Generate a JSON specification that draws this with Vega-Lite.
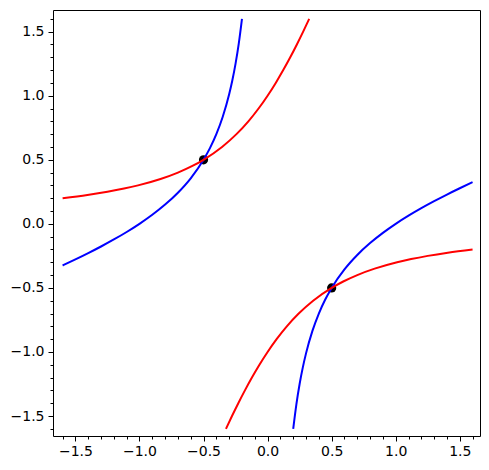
{
  "$schema": "https://vega.github.io/schema/vega-lite/v6.json",
  "width": 427,
  "height": 426,
  "autosize": {"type": "none"},
  "padding": {"left": 53, "top": 10, "right": 9, "bottom": 34},
  "datasets": {
    "curves": [
      {"c": "blue", "b": "b1", "x": -1.6, "y": -0.325},
      {"c": "blue", "b": "b1", "x": -1.5, "y": -0.2778},
      {"c": "blue", "b": "b1", "x": -1.4, "y": -0.2286},
      {"c": "blue", "b": "b1", "x": -1.3, "y": -0.1769},
      {"c": "blue", "b": "b1", "x": -1.2, "y": -0.1222},
      {"c": "blue", "b": "b1", "x": -1.1, "y": -0.0636},
      {"c": "blue", "b": "b1", "x": -1.0, "y": 0.0},
      {"c": "blue", "b": "b1", "x": -0.9, "y": 0.0704},
      {"c": "blue", "b": "b1", "x": -0.8, "y": 0.15},
      {"c": "blue", "b": "b1", "x": -0.7, "y": 0.2429},
      {"c": "blue", "b": "b1", "x": -0.6, "y": 0.3556},
      {"c": "blue", "b": "b1", "x": -0.5, "y": 0.5},
      {"c": "blue", "b": "b1", "x": -0.45, "y": 0.5907},
      {"c": "blue", "b": "b1", "x": -0.4, "y": 0.7},
      {"c": "blue", "b": "b1", "x": -0.35, "y": 0.8357},
      {"c": "blue", "b": "b1", "x": -0.3, "y": 1.0111},
      {"c": "blue", "b": "b1", "x": -0.275, "y": 1.1205},
      {"c": "blue", "b": "b1", "x": -0.25, "y": 1.25},
      {"c": "blue", "b": "b1", "x": -0.225, "y": 1.4065},
      {"c": "blue", "b": "b1", "x": -0.2, "y": 1.6},
      {"c": "blue", "b": "b2", "x": 0.2, "y": -1.6},
      {"c": "blue", "b": "b2", "x": 0.225, "y": -1.4065},
      {"c": "blue", "b": "b2", "x": 0.25, "y": -1.25},
      {"c": "blue", "b": "b2", "x": 0.275, "y": -1.1205},
      {"c": "blue", "b": "b2", "x": 0.3, "y": -1.0111},
      {"c": "blue", "b": "b2", "x": 0.35, "y": -0.8357},
      {"c": "blue", "b": "b2", "x": 0.4, "y": -0.7},
      {"c": "blue", "b": "b2", "x": 0.45, "y": -0.5907},
      {"c": "blue", "b": "b2", "x": 0.5, "y": -0.5},
      {"c": "blue", "b": "b2", "x": 0.6, "y": -0.3556},
      {"c": "blue", "b": "b2", "x": 0.7, "y": -0.2429},
      {"c": "blue", "b": "b2", "x": 0.8, "y": -0.15},
      {"c": "blue", "b": "b2", "x": 0.9, "y": -0.0704},
      {"c": "blue", "b": "b2", "x": 1.0, "y": 0.0},
      {"c": "blue", "b": "b2", "x": 1.1, "y": 0.0636},
      {"c": "blue", "b": "b2", "x": 1.2, "y": 0.1222},
      {"c": "blue", "b": "b2", "x": 1.3, "y": 0.1769},
      {"c": "blue", "b": "b2", "x": 1.4, "y": 0.2286},
      {"c": "blue", "b": "b2", "x": 1.5, "y": 0.2778},
      {"c": "blue", "b": "b2", "x": 1.6, "y": 0.325},
      {"c": "red", "b": "r1", "x": -1.6, "y": 0.2},
      {"c": "red", "b": "r1", "x": -1.4065, "y": 0.225},
      {"c": "red", "b": "r1", "x": -1.25, "y": 0.25},
      {"c": "red", "b": "r1", "x": -1.1205, "y": 0.275},
      {"c": "red", "b": "r1", "x": -1.0111, "y": 0.3},
      {"c": "red", "b": "r1", "x": -0.8357, "y": 0.35},
      {"c": "red", "b": "r1", "x": -0.7, "y": 0.4},
      {"c": "red", "b": "r1", "x": -0.5907, "y": 0.45},
      {"c": "red", "b": "r1", "x": -0.5, "y": 0.5},
      {"c": "red", "b": "r1", "x": -0.3556, "y": 0.6},
      {"c": "red", "b": "r1", "x": -0.2429, "y": 0.7},
      {"c": "red", "b": "r1", "x": -0.15, "y": 0.8},
      {"c": "red", "b": "r1", "x": -0.0704, "y": 0.9},
      {"c": "red", "b": "r1", "x": 0.0, "y": 1.0},
      {"c": "red", "b": "r1", "x": 0.0636, "y": 1.1},
      {"c": "red", "b": "r1", "x": 0.1222, "y": 1.2},
      {"c": "red", "b": "r1", "x": 0.1769, "y": 1.3},
      {"c": "red", "b": "r1", "x": 0.2286, "y": 1.4},
      {"c": "red", "b": "r1", "x": 0.2778, "y": 1.5},
      {"c": "red", "b": "r1", "x": 0.325, "y": 1.6},
      {"c": "red", "b": "r2", "x": -0.325, "y": -1.6},
      {"c": "red", "b": "r2", "x": -0.2778, "y": -1.5},
      {"c": "red", "b": "r2", "x": -0.2286, "y": -1.4},
      {"c": "red", "b": "r2", "x": -0.1769, "y": -1.3},
      {"c": "red", "b": "r2", "x": -0.1222, "y": -1.2},
      {"c": "red", "b": "r2", "x": -0.0636, "y": -1.1},
      {"c": "red", "b": "r2", "x": 0.0, "y": -1.0},
      {"c": "red", "b": "r2", "x": 0.0704, "y": -0.9},
      {"c": "red", "b": "r2", "x": 0.15, "y": -0.8},
      {"c": "red", "b": "r2", "x": 0.2429, "y": -0.7},
      {"c": "red", "b": "r2", "x": 0.3556, "y": -0.6},
      {"c": "red", "b": "r2", "x": 0.5, "y": -0.5},
      {"c": "red", "b": "r2", "x": 0.5907, "y": -0.45},
      {"c": "red", "b": "r2", "x": 0.7, "y": -0.4},
      {"c": "red", "b": "r2", "x": 0.8357, "y": -0.35},
      {"c": "red", "b": "r2", "x": 1.0111, "y": -0.3},
      {"c": "red", "b": "r2", "x": 1.1205, "y": -0.275},
      {"c": "red", "b": "r2", "x": 1.25, "y": -0.25},
      {"c": "red", "b": "r2", "x": 1.4065, "y": -0.225},
      {"c": "red", "b": "r2", "x": 1.6, "y": -0.2}
    ],
    "pts": [
      {"x": -0.5, "y": 0.5},
      {"x": 0.5, "y": -0.5}
    ]
  },
  "config": {
    "view": {"stroke": "black", "strokeWidth": 1},
    "axis": {
      "domain": false,
      "grid": false,
      "title": null,
      "tickColor": "black",
      "tickWidth": 1,
      "labelColor": "black",
      "labelFont": "DejaVu Sans",
      "labelFontSize": 14
    }
  },
  "layer": [
    {
      "data": {"name": "pts"},
      "mark": {"type": "point", "filled": true, "color": "black", "size": 85, "opacity": 1},
      "encoding": {
        "x": {
          "field": "x", "type": "quantitative",
          "scale": {"domain": [-1.675, 1.658], "nice": false, "zero": false},
          "axis": {"orient": "bottom", "values": [-1.5, -1.0, -0.5, 0.0, 0.5, 1.0, 1.5], "format": ".1f", "tickSize": 5, "labelPadding": 3, "labelFlush": false, "labelOverlap": false}
        },
        "y": {
          "field": "y", "type": "quantitative",
          "scale": {"domain": [-1.656, 1.669], "nice": false, "zero": false},
          "axis": {"orient": "left", "values": [-1.5, -1.0, -0.5, 0.0, 0.5, 1.0, 1.5], "format": ".1f", "tickSize": 5, "labelPadding": 4, "labelFlush": false, "labelOverlap": false}
        }
      }
    },
    {
      "data": {"name": "curves"},
      "mark": {"type": "line", "strokeWidth": 2, "clip": true, "interpolate": "monotone"},
      "encoding": {
        "x": {
          "field": "x", "type": "quantitative",
          "scale": {"domain": [-1.675, 1.658], "nice": false, "zero": false},
          "axis": {"orient": "bottom", "labels": false, "tickSize": 3, "values": [-1.6, -1.4, -1.3, -1.2, -1.1, -0.9, -0.8, -0.7, -0.6, -0.4, -0.3, -0.2, -0.1, 0.1, 0.2, 0.3, 0.4, 0.6, 0.7, 0.8, 0.9, 1.1, 1.2, 1.3, 1.4, 1.6]}
        },
        "y": {
          "field": "y", "type": "quantitative",
          "scale": {"domain": [-1.656, 1.669], "nice": false, "zero": false},
          "axis": {"orient": "left", "labels": false, "tickSize": 3, "values": [-1.6, -1.4, -1.3, -1.2, -1.1, -0.9, -0.8, -0.7, -0.6, -0.4, -0.3, -0.2, -0.1, 0.1, 0.2, 0.3, 0.4, 0.6, 0.7, 0.8, 0.9, 1.1, 1.2, 1.3, 1.4, 1.6]}
        },
        "color": {
          "field": "c", "type": "nominal",
          "scale": {"domain": ["blue", "red"], "range": ["#0000ff", "#ff0000"]},
          "legend": null
        },
        "detail": {"field": "b", "type": "nominal"}
      }
    }
  ],
  "resolve": {"axis": {"x": "independent", "y": "independent"}}
}
